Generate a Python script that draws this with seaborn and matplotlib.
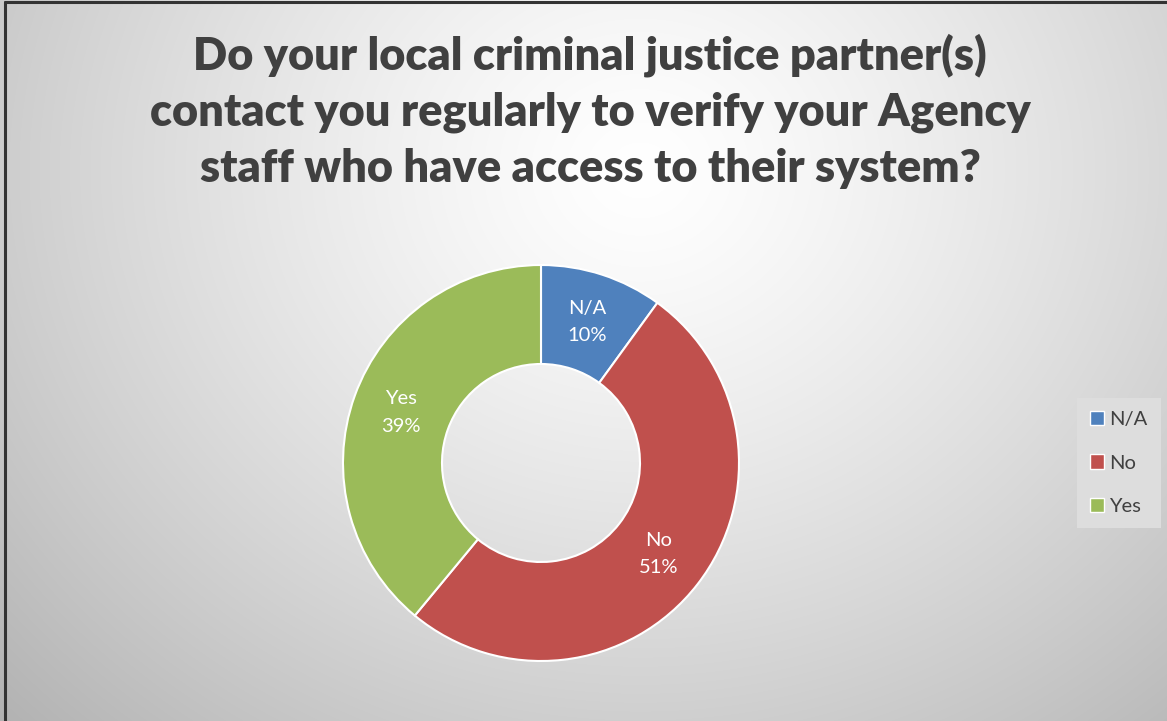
import numpy as np
import matplotlib
matplotlib.use("Agg")
import matplotlib.pyplot as plt
from matplotlib.lines import Line2D
from matplotlib.patches import Patch
import seaborn as sns

# Survey answers
categories = ["N/A", "No", "Yes"]
shares = [10, 51, 39]
colors = ["#4f81bd", "#c0504d", "#9bbb59"]
title = ("Do your local criminal justice partner(s)\n"
         "contact you regularly to verify your Agency\n"
         "staff who have access to their system?")

sns.set_theme(style="white")
plt.rcParams["font.family"] = ["Lato", "DejaVu Sans"]

W, H = 1167, 721
fig = plt.figure(figsize=(W / 100, H / 100), dpi=100)

# Soft radial background shading
bg = fig.add_axes([0, 0, 1, 1], zorder=-10)
yy, xx = np.mgrid[0:H, 0:W]
r = np.sqrt(((xx - 640) / 700.0) ** 2 + ((yy - 170) / 620.0) ** 2)
shade = 1.0 - 0.22 * np.clip(r, 0, 1.3) ** 1.3
shade = np.clip(shade, 0, 1)
bg.imshow(np.dstack([shade] * 3), aspect="auto", extent=[0, W, H, 0])
bg.set_axis_off()

# Frame lines on top and left edges
fig.add_artist(Line2D([4.5 / W, 4.5 / W], [0, 1 - 2 / H], color="#333333", lw=2.2))
fig.add_artist(Line2D([4.5 / W, 1], [1 - 2 / H, 1 - 2 / H], color="#333333", lw=2.2))

fig.text(590 / W, 1 - 111 / H, title, ha="center", va="center",
         fontsize=32.5, fontweight="heavy", color="#404040", linespacing=1.44)

# Donut
R = 198
ax = fig.add_axes([(541 - R) / W, (H - 463 - R) / H, 2 * R / W, 2 * R / H])
wedges, texts, autotexts = ax.pie(
    shares, colors=colors, startangle=90, counterclock=False,
    wedgeprops=dict(width=0.5, edgecolor="white", linewidth=1.5),
    autopct="%.0f%%", pctdistance=0.75,
    textprops=dict(color="white", fontsize=14.5),
)
for t, cat in zip(autotexts, categories):
    t.set_text(f"{cat}\n{t.get_text()}")
    t.set_linespacing(1.75)
ax.set_xlim(-1, 1)
ax.set_ylim(-1, 1)
ax.set_aspect("equal")
ax.set_axis_off()

handles = [Patch(facecolor=c, edgecolor="white", linewidth=1.0) for c in colors]
leg = fig.legend(handles, categories, loc="center left",
                 bbox_to_anchor=(1067 / W, 1 - 463 / H), frameon=True,
                 fontsize=14.5, labelcolor="#404040", handlelength=0.7,
                 handleheight=0.7, handletextpad=0.25, labelspacing=1.3,
                 borderpad=0.65, fancybox=False)
leg.get_frame().set_facecolor("#dddddd")
leg.get_frame().set_edgecolor("none")
leg.get_frame().set_alpha(1)

fig.savefig("out.png", dpi=100)
